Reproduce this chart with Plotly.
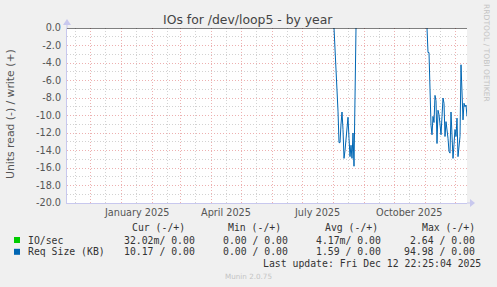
import pandas as pd
import numpy as np
import plotly.graph_objects as go

# ---------------- data ----------------
range_end = pd.Timestamp("2025-12-12 22:25:04")
range_days = 400

seg1_start = "2025-08-01 22:25"
seg1_values = [0.0, -2.5, -4.8, -5.9, -9.5, -13.1, -13.1, -11.0, -9.6, -11.6,
               -14.9, -14.0, -12.8, -11.5, -10.2, -12.6, -14.7, -13.4, -14.9,
               -12.0, -15.8, -8.0, 0.0]

seg2_start = "2025-11-02 22:25"
seg2_values = [0.0, -2.8, -2.8, -8.6, -11.1, -12.2, -10.1, -10.8, -7.7, -8.3,
               -13.2, -9.4, -9.9, -11.0, -12.2, -10.1, -8.0, -8.6, -12.4, -10.7,
               -11.5, -12.6, -14.1, -14.3, -9.6, -12.6, -14.9, -13.3, -11.6,
               -12.4, -10.3, -14.7, -13.6, -12.4, -4.2, -6.7, -10.5, -8.6,
               -9.0, -8.8, -10.1]

month_labels = ["January 2025", "April 2025", "July 2025", "October 2025"]
month_label_dates = ["2025-01-16", "2025-04-16", "2025-07-16", "2025-10-16"]

y_ticks = [0, -2, -4, -6, -8, -10, -12, -14, -16, -18, -20]

legend_headers = ["Cur (-/+)", "Min (-/+)", "Avg (-/+)", "Max (-/+)"]
legend_series = ["IO/sec", "Req Size (KB)"]
legend_colors = ["#00CC00", "#0066B3"]
legend_rows = [
    ["32.02m/ 0.00", "0.00 / 0.00", "4.17m/ 0.00", "2.64 / 0.00"],
    ["10.17 / 0.00", "0.00 / 0.00", "1.59 / 0.00", "94.98 / 0.00"],
]
last_update = "Last update: Fri Dec 12 22:25:04 2025"

# ---------------- build ----------------
d1 = pd.date_range(seg1_start, periods=len(seg1_values), freq="D")
d2 = pd.date_range(seg2_start, periods=len(seg2_values), freq="D")
xs = list(d1) + [d1[-1] + pd.Timedelta(hours=12)] + list(d2)
ys = list(seg1_values) + [None] + list(seg2_values)

range_start = range_end - pd.Timedelta(days=range_days)

W, H = 497, 287
L, R, T, B = 67, 467, 28, 203
PW, PH = R - L, B - T


def px(x):
    return (x - L) / PW


def py(y):
    return (B - y) / PH


fig = go.Figure()
fig.add_trace(go.Scatter(x=xs, y=ys, mode="lines", connectgaps=False,
                         line=dict(color="#0066B3", width=1.0),
                         showlegend=False, hoverinfo="skip"))

RED = "#EDB0B0"
GRAY = "#D2D2D2"
AXIS = "#C8C8EE"
DOT = "1px,2px"

fig.update_layout(
    width=W, height=H, autosize=False,
    margin=dict(l=L, r=W - R, t=T, b=H - B, pad=0),
    paper_bgcolor="#F0F0F0", plot_bgcolor="#FFFFFF",
    showlegend=False,
    xaxis=dict(
        type="date", range=[range_start, range_end],
        showticklabels=False, ticks="",
        showgrid=True, gridcolor=RED, griddash=DOT, gridwidth=1,
        dtick="M1", tick0="2024-12-01",
        minor=dict(dtick="M1", tick0="2024-11-16", showgrid=True,
                   gridcolor=GRAY, griddash=DOT, gridwidth=1),
        showline=True, linecolor=AXIS, linewidth=1, zeroline=False,
        fixedrange=True,
    ),
    yaxis=dict(
        range=[-20, 0], tickvals=y_ticks,
        ticktext=[f"{v:.1f}" for v in y_ticks],
        tickfont=dict(family="DejaVu Sans", size=9.7, color="#555555"),
        ticks="", ticklabelstandoff=3,
        showgrid=True, gridcolor=RED, griddash=DOT, gridwidth=1,
        minor=dict(dtick=1, tick0=0, showgrid=True, gridcolor=GRAY,
                   griddash=DOT, gridwidth=1),
        showline=True, linecolor=AXIS, linewidth=1, zeroline=False,
        fixedrange=True,
    ),
)

shapes = []
# zero line
shapes.append(dict(type="line", xref="paper", yref="y", x0=0, x1=1, y0=0, y1=0,
                   line=dict(color="#000000", width=1.2)))
# axis extensions and arrows
shapes.append(dict(type="line", xref="paper", yref="paper", x0=1, x1=px(471),
                   y0=0, y1=0, line=dict(color=AXIS, width=1)))
shapes.append(dict(type="line", xref="paper", yref="paper", x0=0, x1=0,
                   y0=1, y1=py(21), line=dict(color=AXIS, width=1)))
shapes.append(dict(type="path", xref="paper", yref="paper",
                   path=f"M {px(470)} {py(199)} L {px(475)} {py(203)} L {px(470)} {py(207)} Z",
                   fillcolor=AXIS, line=dict(width=0)))
shapes.append(dict(type="path", xref="paper", yref="paper",
                   path=f"M {px(63)} {py(25)} L {px(67)} {py(19)} L {px(71)} {py(25)} Z",
                   fillcolor=AXIS, line=dict(width=0)))
# legend color squares
for i, c in enumerate(legend_colors):
    yc = 240 + i * 11.8
    shapes.append(dict(type="rect", xref="paper", yref="paper",
                       x0=px(14), x1=px(20), y0=py(yc - 3), y1=py(yc + 3),
                       fillcolor=c, line=dict(color=c, width=0)))
fig.update_layout(shapes=shapes)

ann = []
# title
ann.append(dict(text="IOs for /dev/loop5 - by year", xref="paper", yref="paper",
                x=px(248), y=py(19), xanchor="center", yanchor="middle",
                showarrow=False,
                font=dict(family="DejaVu Sans", size=12.4, color="#444444")))
# y axis title
ann.append(dict(text="Units read (-) / write (+)", xref="paper", yref="paper",
                x=px(10), y=py(114), xanchor="center", yanchor="middle",
                textangle=-90, showarrow=False,
                font=dict(family="DejaVu Sans", size=10.8, color="#555555")))
# side credit
ann.append(dict(text="RRDTOOL / TOBI OETIKER", xref="paper", yref="paper",
                x=px(487), y=py(53), xanchor="center", yanchor="middle",
                textangle=90, showarrow=False,
                font=dict(family="DejaVu Sans", size=7.6, color="#C4C4C4")))
# x labels
for lab, d in zip(month_labels, month_label_dates):
    ann.append(dict(text=lab, xref="x", yref="paper", x=d, y=py(212.5),
                    xanchor="center", yanchor="middle", showarrow=False,
                    font=dict(family="DejaVu Sans", size=9.7, color="#555555")))
mono = dict(family="DejaVu Sans Mono", size=9.8, color="#333333")
head_right = [187, 283, 380, 477]
val_right = [197, 290, 383, 477]
for h, xr in zip(legend_headers, head_right):
    ann.append(dict(text=h, xref="paper", yref="paper", x=px(xr), y=py(227.5),
                    xanchor="right", yanchor="middle", showarrow=False, font=mono))
for i, (name, row) in enumerate(zip(legend_series, legend_rows)):
    yc = 240 + i * 11.8
    ann.append(dict(text=name, xref="paper", yref="paper", x=px(25.5), y=py(yc),
                    xanchor="left", yanchor="middle", showarrow=False, font=mono))
    for v, xr in zip(row, val_right):
        ann.append(dict(text=v, xref="paper", yref="paper", x=px(xr), y=py(yc),
                        xanchor="right", yanchor="middle", showarrow=False, font=mono))
ann.append(dict(text=last_update, xref="paper", yref="paper", x=px(483), y=py(263.5),
                xanchor="right", yanchor="middle", showarrow=False, font=mono))
ann.append(dict(text="Munin 2.0.75", xref="paper", yref="paper", x=px(248), y=py(276),
                xanchor="center", yanchor="middle", showarrow=False,
                font=dict(family="DejaVu Sans", size=7.2, color="#C4C4C4")))
fig.update_layout(annotations=ann)

fig.write_html("out.html")
